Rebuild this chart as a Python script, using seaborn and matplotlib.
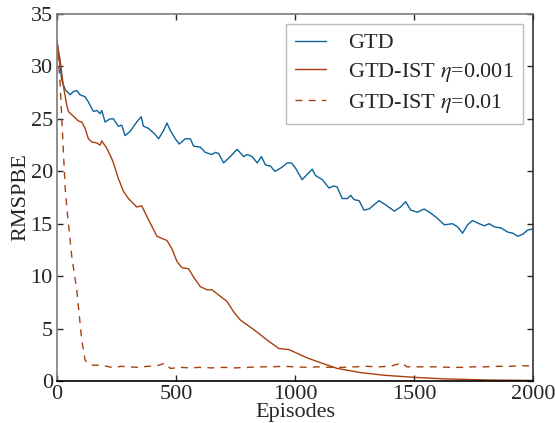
import matplotlib
matplotlib.use("Agg")
import matplotlib.pyplot as plt
import seaborn as sns
import pandas as pd

# ---------------------------------------------------------------------------
# Data
# ---------------------------------------------------------------------------

gtd_episodes = [
    0, 20, 34, 55, 69, 83, 97, 118, 132, 153, 167, 181, 188, 202, 223, 237,
    258, 272, 286, 307, 335, 354, 363, 384, 413, 427, 448, 462, 476, 497, 514,
    539, 560, 574, 602, 623, 651, 665, 679, 700, 728, 757, 784, 799, 820, 841,
    859, 876, 897, 915, 932, 946, 967, 985, 1002, 1030, 1051, 1072, 1086, 1115,
    1143, 1163, 1177, 1198, 1220, 1234, 1248, 1269, 1290, 1311, 1332, 1353,
    1381, 1417, 1444, 1465, 1486, 1514, 1543, 1571, 1599, 1627, 1662, 1683,
    1704, 1725, 1746, 1774, 1795, 1816, 1837, 1865, 1894, 1915, 1936, 1957,
    1978, 2000,
]
gtd_rmspbe = [
    32.3, 28.7, 27.8, 27.3, 27.6, 27.7, 27.3, 27.1, 26.6, 25.7, 25.8, 25.5,
    25.8, 24.7, 25.0, 25.0, 24.3, 24.4, 23.4, 23.8, 24.7, 25.2, 24.3, 24.1,
    23.5, 23.1, 23.9, 24.6, 23.9, 23.1, 22.6, 23.1, 23.1, 22.4, 22.3, 21.8,
    21.6, 21.8, 21.7, 20.8, 21.4, 22.1, 21.4, 21.6, 21.4, 20.8, 21.4, 20.6,
    20.5, 20.0, 20.2, 20.4, 20.8, 20.8, 20.3, 19.2, 19.7, 20.2, 19.6, 19.2,
    18.4, 18.6, 18.5, 17.4, 17.4, 17.7, 17.3, 17.2, 16.3, 16.4, 16.8, 17.2,
    16.8, 16.2, 16.6, 17.1, 16.3, 16.1, 16.4, 16.0, 15.5, 14.9, 15.0, 14.7,
    14.1, 14.9, 15.3, 15.0, 14.8, 15.0, 14.7, 14.6, 14.2, 14.1, 13.8, 14.0,
    14.4, 14.5,
]

ist_slow_episodes = [
    0, 13, 27, 41, 48, 62, 76, 90, 104, 118, 132, 146, 167, 181, 188, 209,
    230, 237, 258, 279, 300, 335, 356, 384, 420, 462, 483, 504, 525, 553,
    574, 602, 630, 651, 679, 714, 742, 771, 827, 883, 932, 974, 1051, 1107,
    1177, 1276, 1374, 1500, 1627, 1800, 2000,
]
ist_slow_rmspbe = [
    32.4, 30.6, 28.1, 26.3, 25.7, 25.4, 25.1, 24.8, 24.7, 24.1, 23.1, 22.8,
    22.7, 22.5, 22.9, 22.2, 21.2, 20.8, 19.3, 18.1, 17.4, 16.6, 16.7, 15.4,
    13.8, 13.4, 12.6, 11.4, 10.8, 10.7, 9.9, 9.0, 8.7, 8.7, 8.2, 7.6, 6.6,
    5.8, 4.9, 3.9, 3.1, 3.0, 2.2, 1.75, 1.2, 0.8, 0.55, 0.35, 0.2, 0.1, 0.05,
]

ist_fast_episodes = [
    0, 13, 34, 41, 62, 83, 104, 118, 135, 153, 181, 210, 237, 270, 300, 340,
    380, 420, 455, 476, 520, 560, 600, 650, 700, 750, 800, 850, 900, 950,
    1000, 1050, 1100, 1150, 1200, 1250, 1300, 1350, 1400, 1430, 1451, 1470,
    1500, 1550, 1600, 1650, 1700, 1750, 1800, 1850, 1900, 1950, 2000,
]
ist_fast_rmspbe = [
    32.5, 28.4, 18.5, 16.6, 11.9, 8.7, 3.9, 2.0, 1.6, 1.5, 1.5, 1.4, 1.27,
    1.4, 1.35, 1.3, 1.4, 1.45, 1.7, 1.2, 1.3, 1.25, 1.3, 1.25, 1.3, 1.25,
    1.3, 1.35, 1.35, 1.4, 1.35, 1.3, 1.35, 1.3, 1.3, 1.35, 1.4, 1.35, 1.4,
    1.6, 1.7, 1.35, 1.35, 1.35, 1.35, 1.3, 1.3, 1.35, 1.35, 1.4, 1.4, 1.45,
    1.45,
]

series_labels = ["GTD", r"GTD-IST $\eta$=0.001", r"GTD-IST $\eta$=0.01"]

BLUE = "#0b6399"
RUST = "#a8400e"

# ---------------------------------------------------------------------------
# Style
# ---------------------------------------------------------------------------

sns.set_style("ticks")
plt.rcParams["font.family"] = ["Liberation Serif", "DejaVu Serif"]
plt.rcParams["mathtext.fontset"] = "stix"
plt.rcParams["font.size"] = 16
plt.rcParams["xtick.direction"] = "in"
plt.rcParams["ytick.direction"] = "in"

fig, ax = plt.subplots(figsize=(5.55, 4.23), dpi=100)
fig.subplots_adjust(left=0.1027, right=0.9604, top=0.9669, bottom=0.0993)

frames = [
    (pd.DataFrame({"Episodes": gtd_episodes, "RMSPBE": gtd_rmspbe}), BLUE, None),
    (pd.DataFrame({"Episodes": ist_slow_episodes, "RMSPBE": ist_slow_rmspbe}), RUST, None),
    (pd.DataFrame({"Episodes": ist_fast_episodes, "RMSPBE": ist_fast_rmspbe}), RUST, (5, 4.5)),
]
for (df, color, dash), label in zip(frames, series_labels):
    sns.lineplot(
        data=df, x="Episodes", y="RMSPBE", ax=ax, color=color,
        linewidth=1.0, label=label,
    )
    if dash is not None:
        ax.lines[-1].set_dashes(dash)

ax.set_xlim(0, 2000)
ax.set_ylim(0, 35)
ax.set_xticks([0, 500, 1000, 1500, 2000])
ax.set_yticks([0, 5, 10, 15, 20, 25, 30, 35])
ax.tick_params(axis="both", which="major", length=4, width=1, pad=3,
               top=True, right=True, labelsize=16)
ax.set_xlabel("Episodes", fontsize=16, labelpad=-1)
ax.set_ylabel("RMSPBE", fontsize=16, labelpad=0)

for side, color in [("left", "#7a7a7a"), ("top", "#7a7a7a"),
                    ("right", "#333333"), ("bottom", "black")]:
    ax.spines[side].set_visible(True)
    ax.spines[side].set_color(color)
    ax.spines[side].set_linewidth(1.2)

leg = ax.legend(loc="upper right", fontsize=16, frameon=True, fancybox=False,
                handlelength=1.4, handletextpad=1.0, labelspacing=0.35,
                borderpad=0.4, borderaxespad=0.45)
leg.get_frame().set_edgecolor("#aaaaaa")
leg.get_frame().set_linewidth(1.0)

fig.savefig("out.png", dpi=100)
